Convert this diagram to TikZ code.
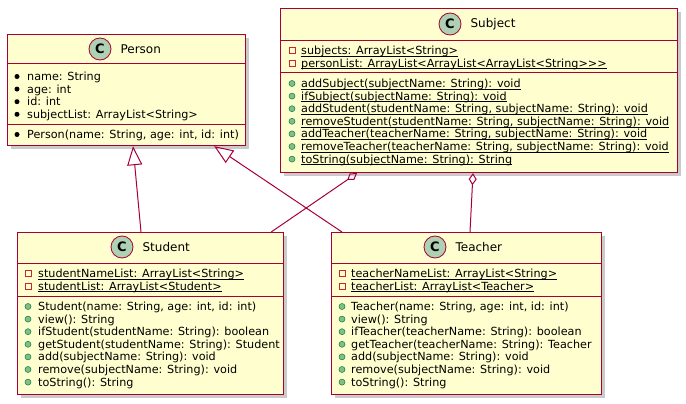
\documentclass[tikz,border=0pt]{standalone}
\usepackage{fontspec}
\setmainfont{DejaVu Sans}
\usetikzlibrary{arrows.meta,shadows,positioning}
\definecolor{umlfill}{HTML}{FEFECE}
\definecolor{umlline}{HTML}{A80036}
\definecolor{umlicon}{HTML}{ADD1B2}
\definecolor{pubfill}{HTML}{84BE84}
\definecolor{publine}{HTML}{038048}
\definecolor{privline}{HTML}{C82930}
\newcommand\stat[1]{\underline{\smash{#1}}}
\tikzset{
    classbox/.style={draw=umlline, fill=umlfill, line width=1.2pt, inner sep=0, anchor=north west,
        drop shadow={shadow xshift=3pt, shadow yshift=-3pt, fill=black!60, opacity=0.35}},
    classicon/.style={circle, draw=umlline, fill=umlicon, line width=0.8pt, minimum size=22pt, inner sep=0,
        font=\fontsize{13}{13}\selectfont\bfseries},
    classname/.style={inner sep=0, font=\fontsize{12}{14}\selectfont},
    member/.style={anchor=base west, inner sep=0, font=\fontsize{11.2}{13}\selectfont},
    pkgdot/.style={circle, fill=black, minimum size=5pt, inner sep=0},
    pubdot/.style={circle, draw=publine, fill=pubfill, line width=0.5pt, minimum size=6pt, inner sep=0},
    privsq/.style={rectangle, draw=privline, line width=0.8pt, minimum size=6pt, inner sep=0},
    sep/.style={draw=umlline, line width=1pt},
    extends/.style={draw=umlline, line width=1pt, -{Triangle[open, length=19pt, width=15pt]}},
    aggr/.style={draw=umlline, line width=1pt, {Diamond[open, length=12pt, width=8pt]}-},
}
\begin{document}
\begin{tikzpicture}[x=1pt, y=-1pt]
    \useasboundingbox (0,0) rectangle (686,404);
    % boxes
        \node[classbox, minimum width=238pt, minimum height=111pt] (person) at (7,34) {};
        \node[classbox, minimum width=397pt, minimum height=164pt] (subject) at (280,8) {};
        \node[classbox, minimum width=266pt, minimum height=162pt] (student) at (17,232) {};
        \node[classbox, minimum width=270pt, minimum height=162pt] (teacher) at (331,232) {};
        \foreach \b/\s/\t in {person/30/90, subject/33/65, student/31/64, teacher/31/64}{
            \draw[sep] ([yshift=-\s pt]\b.north west) -- ([yshift=-\s pt]\b.north east);
            \draw[sep] ([yshift=-\t pt]\b.north west) -- ([yshift=-\t pt]\b.north east);
        }
    % headers
        \node[classicon] (personicon) at (100,49) {C};
        \node[classname, right=9pt of personicon] (personname) {Person};
        \node[classicon] (subjecticon) at (450,24) {C};
        \node[classname, right=9pt of subjecticon] (subjectname) {Subject};
        \node[classicon] (studenticon) at (122,247) {C};
        \node[classname, right=9pt of studenticon] (studentname) {Student};
        \node[classicon] (teachericon) at (435,247) {C};
        \node[classname, right=9pt of teachericon] (teachername) {Teacher};
    % Person
        \foreach \t [count=\i from 0] in {name: String, age: int, id: int, subjectList: ArrayList<String>}{
            \node[pkgdot] (per-am\i) at (17,{76.5+12.6*\i}) {};
            \node[member] (per-a\i) at (27,{80.5+12.6*\i}) {\t};
        }
        \node[pkgdot] (per-mm0) at (17,134.5) {};
        \node[member] (per-m0) at (27,138.5) {Person(name: String, age: int, id: int)};
    % Subject
        \foreach \t [count=\i from 0] in {{subjects: ArrayList<String>}, {personList: ArrayList<ArrayList<ArrayList<String>\kern0pt>\kern0pt>}}{
            \node[privsq] (sub-am\i) at (292,{50.5+12.6*\i}) {};
            \node[member] (sub-a\i) at (301,{54.5+12.6*\i}) {\stat{\t}};
        }
        \foreach \t [count=\i from 0] in {{addSubject(subjectName: String): void},
                {ifSubject(subjectName: String): void},
                {addStudent(studentName: String, subjectName: String): void},
                {removeStudent(studentName: String, subjectName: String): void},
                {addTeacher(teacherName: String, subjectName: String): void},
                {removeTeacher(teacherName: String, subjectName: String): void},
                {toString(subjectName: String): String}}{
            \node[pubdot] (sub-mm\i) at (292,{83.5+12.6*\i}) {};
            \node[member] (sub-m\i) at (301,{87.5+12.6*\i}) {\stat{\t}};
        }
    % Student
        \foreach \t [count=\i from 0] in {{studentNameList: ArrayList<String>}, {studentList: ArrayList<Student>}}{
            \node[privsq] (stu-am\i) at (28,{273.5+12.6*\i}) {};
            \node[member] (stu-a\i) at (38,{277.5+12.6*\i}) {\stat{\t}};
        }
        \foreach \t [count=\i from 0] in {{Student(name: String, age: int, id: int)},
                {view(): String},
                {ifStudent(studentName: String): boolean},
                {getStudent(studentName: String): Student},
                {add(subjectName: String): void},
                {remove(subjectName: String): void},
                {toString(): String}}{
            \node[pubdot] (stu-mm\i) at (28,{306.5+12.6*\i}) {};
            \node[member] (stu-m\i) at (38,{310.5+12.6*\i}) {\t};
        }
    % Teacher
        \foreach \t [count=\i from 0] in {{teacherNameList: ArrayList<String>}, {teacherList: ArrayList<Teacher>}}{
            \node[privsq] (tea-am\i) at (342,{273.5+12.6*\i}) {};
            \node[member] (tea-a\i) at (351,{277.5+12.6*\i}) {\stat{\t}};
        }
        \foreach \t [count=\i from 0] in {{Teacher(name: String, age: int, id: int)},
                {view(): String},
                {ifTeacher(teacherName: String): boolean},
                {getTeacher(teacherName: String): Teacher},
                {add(subjectName: String): void},
                {remove(subjectName: String): void},
                {toString(): String}}{
            \node[pubdot] (tea-mm\i) at (342,{306.5+12.6*\i}) {};
            \node[member] (tea-m\i) at (351,{310.5+12.6*\i}) {\t};
        }
    % relations
        \draw[extends] ([xshift=124pt]student.north west) -- ([xshift=126pt]person.south west);
        \draw[extends] ([xshift=11pt]teacher.north west) -- ([xshift=-32pt]person.south east);
        \draw[aggr] ([xshift=77pt]subject.south west) -- ([xshift=-13pt]student.north east);
        \draw[aggr] ([xshift=193pt]subject.south west) -- ([xshift=139pt]teacher.north west);
\end{tikzpicture}
\end{document}
